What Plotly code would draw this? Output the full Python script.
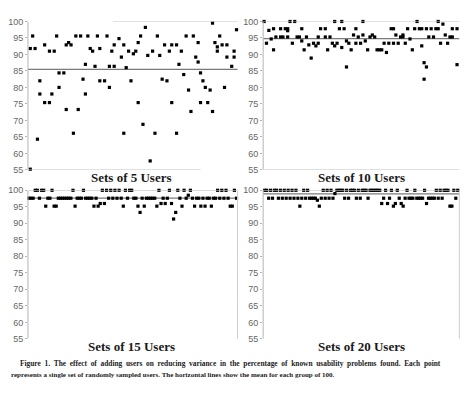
import plotly.graph_objects as go

# ---------------- data ----------------
PANEL_TITLES = ["Sets of 5 Users", "Sets of 10 Users", "Sets of 15 Users", "Sets of 20 Users"]
MEANS = [85.5, 94.8, 97.6, 98.9]
Y_TICKS = [55, 60, 65, 70, 75, 80, 85, 90, 95, 100]

# Sets of 5 users: (set order, % found)
U5_X = [1, 1, 2, 3, 4, 5, 5, 7, 7, 9, 9, 10, 11, 12, 13, 13, 15, 16, 16, 17,
        18, 19, 20, 21, 22, 23, 24, 24, 25, 26, 27, 28, 29, 30, 30, 32, 33, 34, 34, 35,
        36, 36, 38, 39, 40, 40, 41, 42, 43, 44, 45, 46, 46, 47, 48, 49, 50, 51, 52, 53,
        54, 55, 56, 57, 58, 59, 60, 60, 62, 62, 63, 64, 65, 66, 67, 68, 69, 70, 71, 71,
        72, 72, 73, 74, 75, 76, 77, 77, 78, 79, 79, 80, 81, 82, 83, 83, 85, 86, 86, 87]
U5_Y = [55.2, 91.8, 95.6, 91.8, 64.3, 82, 78, 75.4, 92.9, 75.4, 91, 78, 91, 95.6, 84.4, 80, 84.4, 73.3, 92.9, 93.6,
        92.9, 66.1, 95.6, 73.3, 95.6, 82.5, 87, 78, 95.6, 91.8, 91, 86.4, 95.6, 91.8, 82, 82, 95.6, 86.4, 80, 91,
        86.4, 92.9, 94.8, 89.2, 92.9, 66.1, 86, 91, 82, 90.2, 91, 75.4, 93.6, 95.6, 68.8, 98.2, 89.7, 57.7, 91, 66.1,
        95.6, 89.7, 82.5, 92.9, 82, 91, 75.4, 92.9, 92.9, 66.1, 87, 91, 83.9, 95.6, 79.2, 72.7, 95.6, 89.2, 87.7, 93.6,
        84.4, 75.4, 82, 80, 75.4, 79.2, 99.5, 72.7, 93.6, 92.3, 91, 95.6, 92.9, 80, 92.9, 89.2, 86.4, 91, 89.2, 97.5]

# Sets of 10 users
U10_X = [1, 2, 3, 4, 5, 5, 6, 8, 8, 9, 10, 11, 11, 11, 12, 13, 14, 15, 16, 17,
         17, 18, 19, 20, 21, 22, 23, 24, 24, 25, 27, 27, 28, 29, 30, 31, 31, 32, 33, 34,
         34, 35, 36, 36, 37, 38, 39, 40, 40, 41, 42, 43, 43, 44, 45, 46, 47, 48, 49, 50,
         51, 52, 53, 54, 55, 56, 56, 57, 58, 59, 60, 60, 61, 62, 63, 64, 65, 66, 67, 68,
         68, 69, 69, 70, 70, 71, 72, 73, 74, 75, 75, 76, 77, 78, 79, 80, 81, 81, 83, 83]
U10_Y = [100, 93.4, 97.3, 94.7, 97.8, 91.4, 95.3, 97.8, 95.3, 95.3, 97.8, 97.8, 97.2, 95.3, 100, 93.4, 100, 95.3, 95.3, 97.8,
         94.1, 91.4, 95.3, 92.9, 88.9, 93.4, 92.6, 93.4, 95.3, 97.8, 97.8, 95.3, 91.4, 95.3, 93.4, 92.6, 100, 93.4, 97.8, 100,
         92.1, 97.8, 86.2, 94.1, 93.4, 91.4, 95.9, 97.8, 93.4, 95.3, 93.4, 100, 95.9, 94.1, 91.4, 95.3, 95.9, 95.3, 91.4, 91.4,
         91.4, 93.4, 90.6, 93.4, 97.8, 97.8, 93.4, 95.9, 93.4, 95.3, 95.9, 95.3, 93.4, 97.8, 94.7, 91.4, 97.8, 100, 97.8, 92.6,
         97.8, 87.5, 82.5, 86.2, 97.8, 95.3, 97.8, 95.3, 97.8, 100, 97.8, 93.4, 99.2, 95.9, 93.4, 95.3, 95.3, 97.8, 97.8, 86.9]

# Sets of 15 users (one set per position 1..100)
U15_Y = [97.6, 97.6, 97.6, 100, 100, 97.6, 100, 100, 95.2, 97.6,
         97.6, 100, 95.2, 95.2, 97.6, 97.6, 97.6, 97.6, 97.6, 97.6,
         97.6, 100, 95.2, 97.6, 97.6, 97.6, 100, 97.6, 97.6, 97.6,
         97.6, 95.2, 97.6, 95.2, 96, 100, 96, 100, 97.6, 100,
         97.6, 100, 97.6, 100, 97.6, 95.2, 100, 97.6, 100, 100,
         97.6, 97.6, 95.2, 93.3, 97.6, 95.2, 97.6, 97.6, 97.6, 97.6,
         97.6, 95.2, 100, 96, 97.6, 96, 97.6, 100, 96, 91.3,
         93.3, 100, 97.6, 95.2, 100, 97.6, 98.5, 100, 97.6, 95.2,
         97.6, 97.6, 95.2, 97.6, 95.2, 97.6, 97.6, 95.2, 97.6, 97.6,
         100, 97.6, 100, 97.6, 100, 97.6, 95.2, 95.2, 100, 97.6]
U15_X = list(range(1, len(U15_Y) + 1))

# Sets of 20 users
U20_Y = [100, 100, 97.6, 100, 97.6, 100, 100, 97.6, 100, 97.6,
         100, 97.6, 100, 97.6, 100, 97.6, 100, 97.6, 95.2, 97.6,
         100, 97.6, 100, 97.6, 97.6, 97.6, 97.6, 97.0, 95.2, 97.6,
         100, 97.6, 100, 97.6, 100, 97.6, 99.0, 100, 100, 100,
         100, 97.6, 100, 97.6, 100, 100, 100, 97.6, 100, 97.6,
         100, 100, 100, 97.6, 100, 100, 100, 100, 100, 100,
         96, 97.6, 100, 96, 97.6, 100, 95.2, 96, 100, 97.6,
         96, 95.2, 97.6, 100, 97.6, 97.6, 97.6, 100, 97.6, 97.6,
         97.6, 97.6, 100, 96, 97.6, 97.6, 97.6, 97.6, 100, 97.6,
         100, 97.6, 100, 100, 100, 95.2, 95.2, 100, 97.6, 100]
U20_X = list(range(1, len(U20_Y) + 1))

SERIES = [(U5_X, U5_Y), (U10_X, U10_Y), (U15_X, U15_Y), (U20_X, U20_Y)]

CAPTION_1 = ("Figure 1. The effect of adding users on reducing variance in the percentage of known "
             "usability problems found. Each point")
CAPTION_2 = ("represents a single set of randomly sampled users. The horizontal lines show the mean "
             "for each group of 100.")

# ---------------- layout geometry ----------------
# The page body has an 8 px default margin, so the figure is 8 px smaller
# and window pixel positions are converted with that offset.
OFF = 8
W, H = 472 - OFF, 395 - OFF


def px(x):
    return (x - OFF) / W


def py(y):
    return 1 - (y - OFF) / H


X_DOM = [[px(27), px(237)], [px(262.7), px(459.3)], [px(27), px(237)], [px(262.7), px(459.3)]]
Y_DOM = [[py(169), py(16.7)], [py(169), py(16.7)], [py(342.5), py(190)], [py(342.5), py(190)]]
X_RANGE = [[0.04, 87.42], [0.58, 83.98], [0.52, 100.48], [0.18, 100.82]]

fig = go.Figure()
layout = dict(width=W, height=H, margin=dict(l=0, r=0, t=0, b=0),
              paper_bgcolor="white", plot_bgcolor="white", showlegend=False)
shapes = []
annotations = []

AXIS_COL = "#b4b4b4"
for i, (xs, ys) in enumerate(SERIES):
    n = "" if i == 0 else str(i + 1)
    fig.add_trace(go.Scatter(x=xs, y=ys, mode="markers", xaxis="x" + n, yaxis="y" + n,
                             marker=dict(symbol="square", size=3.2, color="black",
                                         line=dict(width=0)),
                             cliponaxis=False, hoverinfo="skip"))
    layout["xaxis" + n] = dict(domain=X_DOM[i], range=X_RANGE[i], visible=False,
                               anchor="y" + n, fixedrange=True)
    layout["yaxis" + n] = dict(domain=Y_DOM[i], range=[55, 100], anchor="x" + n,
                               tickvals=Y_TICKS, ticks="outside", ticklen=2,
                               tickcolor=AXIS_COL, showgrid=False, zeroline=False,
                               showline=False, tickfont=dict(family="Liberation Sans, Arial",
                                                             size=9, color="#666666"),
                               fixedrange=True)
    xd = "x" + n + " domain"
    yr = "y" + n
    # left axis line
    shapes.append(dict(type="line", xref=xd, yref=yr, x0=0, x1=0, y0=55, y1=100,
                       line=dict(color=AXIS_COL, width=1)))
    # top line at 100
    x_top0 = (112 - 27) / 210 if i == 0 else 0
    shapes.append(dict(type="line", xref=xd, yref=yr, x0=x_top0, x1=1, y0=100, y1=100,
                       line=dict(color="#c4c4c4", width=1)))
    # bottom line
    if i == 0:
        shapes.append(dict(type="line", xref=xd, yref=yr, x0=0, x1=(200 - 27) / 210, y0=55, y1=55,
                           line=dict(color="#c4c4c4", width=1)))
    elif i == 1:
        shapes.append(dict(type="line", xref=xd, yref=yr, x0=0, x1=1, y0=55, y1=55,
                           line=dict(color="#c4c4c4", width=1)))
    # right border
    if i in (2, 3):
        shapes.append(dict(type="line", xref=xd, yref=yr, x0=1, x1=1, y0=55, y1=100,
                           line=dict(color="#cfcfcf", width=1)))
    # mean line
    shapes.append(dict(type="line", xref=xd, yref=yr, x0=0, x1=1, y0=MEANS[i], y1=MEANS[i],
                       line=dict(color="#7a7a7a", width=1.2), layer="below"))

# panel titles
TITLE_POS = [(131, 177), (361, 177), (131, 350), (361, 350)]
for (tx, ty), t in zip(TITLE_POS, PANEL_TITLES):
    annotations.append(dict(text="<b>" + t + "</b>", x=px(tx), y=py(ty), xref="paper", yref="paper",
                            xanchor="center", yanchor="middle", showarrow=False,
                            font=dict(family="Liberation Serif, Times New Roman", size=13, color="#1a1a1a")))

# caption: first line is justified (slightly wider word gaps), second line is set naturally
JUSTIFY_GAP = " " + "\u00a0"
annotations.append(dict(text="<b>" + JUSTIFY_GAP.join(CAPTION_1.split(" ")) + "</b>",
                        x=px(17), y=py(368), xref="paper", yref="paper",
                        xanchor="left", yanchor="middle", showarrow=False,
                        font=dict(family="Liberation Serif, Times New Roman", size=7.4, color="#222222")))
annotations.append(dict(text="<b>" + CAPTION_2 + "</b>", x=px(8), y=py(380), xref="paper", yref="paper",
                        xanchor="left", yanchor="middle", showarrow=False,
                        font=dict(family="Liberation Serif, Times New Roman", size=7.0, color="#222222")))

layout["shapes"] = shapes
layout["annotations"] = annotations
fig.update_layout(**layout)
fig.write_html("out.html")
